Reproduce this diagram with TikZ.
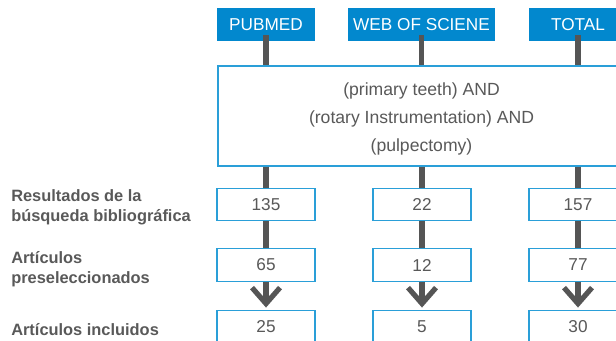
\documentclass[tikz,border=0pt]{standalone}
\usepackage{fontspec}
\setmainfont{Liberation Sans}
\usepackage{tikz}
\usetikzlibrary{arrows.meta,calc}
\usepackage{xcolor}
\definecolor{headblue}{HTML}{0288CE}
\definecolor{edgeblue}{HTML}{2A9FD8}
\definecolor{linegray}{HTML}{555555}
\definecolor{textgray}{HTML}{595959}

\begin{document}
\begin{tikzpicture}[x=0.75pt,y=-0.75pt,>={Straight Barb[length=12pt,width=21pt]},
  head/.style={fill=headblue,text=white,minimum height=24.75pt,inner sep=0pt,font=\fontsize{12.9}{14}\selectfont},
  numbox/.style={draw=edgeblue,line width=0.9pt,fill=white,text=textgray,minimum width=73.5pt,minimum height=24.5pt,inner sep=0pt,font=\fontsize{12.9}{14}\selectfont},
  rowlabel/.style={anchor=west,align=left,text=textgray,inner sep=0pt,font=\bfseries\fontsize{12.3}{14.8}\selectfont},
  link/.style={draw=linegray,line width=3.9pt}]
  \useasboundingbox (0,0) rectangle (616,340);
  \clip (0,0) rectangle (616,340);
  % sources
  \node[head,minimum width=73.5pt] (pubmed) at (266,24.5) {PUBMED};
  \node[head,minimum width=110.25pt] (wos) at (421.5,24.5) {WEB OF SCIENE};
  \node[head,minimum width=73.5pt] (total) at (578,24.5) {TOTAL};
  % search string
  \node[draw=edgeblue,line width=0.9pt,fill=white,text=textgray,minimum width=305.25pt,minimum height=75pt,align=center,
    font=\fontsize{13.2}{21}\selectfont] (query) at (421.5,116)
    {\rule{0pt}{14pt}(primary teeth) AND\\(rotary Instrumentation) AND\\(pulpectomy)};
  % counts
  \node[numbox] (res1) at (266,204.5) {135};
  \node[numbox] (res2) at (422,204.5) {22};
  \node[numbox] (res3) at (578,204.5) {157};
  \node[numbox] (pre1) at (266,265) {65};
  \node[numbox] (pre2) at (422,265) {12};
  \node[numbox] (pre3) at (578,265) {77};
  \node[numbox] (inc1) at (266,326.5) {25};
  \node[numbox] (inc2) at (422,326.5) {5};
  \node[numbox] (inc3) at (578,326.5) {30};
  % row labels
  \node[rowlabel] (lres) at (11,207) {Resultados de la\\búsqueda bibliográfica};
  \node[rowlabel] (lpre) at (11,269) {Artículos\\preseleccionados};
  \node[rowlabel] (linc) at (11,330) {Artículos incluidos};
  % connectors
  \draw[link] ([yshift=4.5pt]pubmed.south) -- (pubmed.south |- query.north);
  \draw[link] ([yshift=4.5pt]wos.south) -- (wos.south |- query.north);
  \draw[link] ([yshift=4.5pt]total.south) -- (total.south |- query.north);
  \draw[link] (res1.north |- query.south) -- (res1.north);
  \draw[link] (res2.north |- query.south) -- (res2.north);
  \draw[link] (res3.north |- query.south) -- (res3.north);
  \draw[link] (res1) -- (pre1);
  \draw[link] (res2) -- (pre2);
  \draw[link] (res3) -- (pre3);
  \draw[link,->,shorten >=1.5pt] (pre1) -- (inc1);
  \draw[link,->,shorten >=1.5pt] (pre2) -- (inc2);
  \draw[link,->,shorten >=1.5pt] (pre3) -- (inc3);
\end{tikzpicture}
\end{document}
